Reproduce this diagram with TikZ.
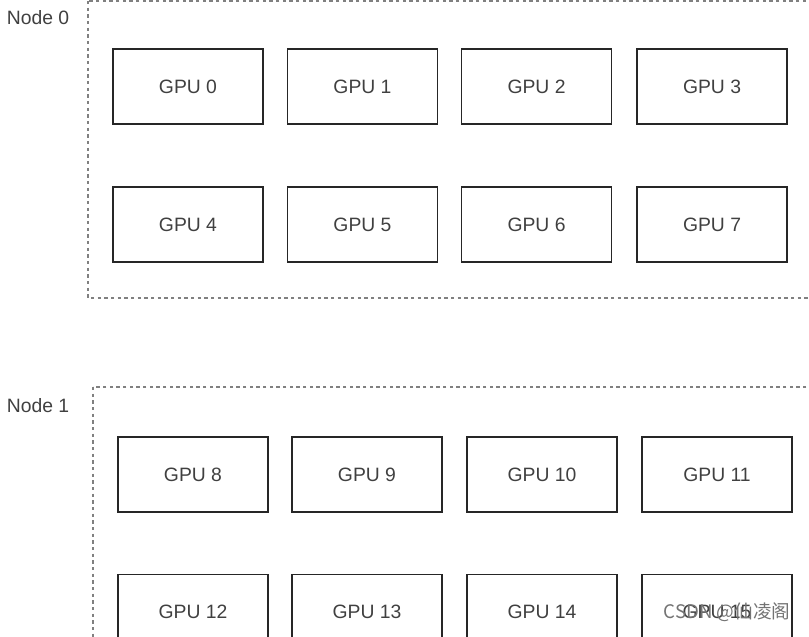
\documentclass[tikz,border=0pt]{standalone}
\usepackage{fontspec}
\setmainfont{Liberation Sans}
\newfontfamily\cjk{Noto Sans CJK SC}

\begin{document}
\begin{tikzpicture}[x=0.75pt,y=-0.75pt]

      \useasboundingbox (0,0) rectangle (809,636);
      \clip (0,0) rectangle (809,636);

      \tikzset{
        gpubox/.style={draw=black!85,line width=0.9pt,text=black!75,
          minimum width=112.5pt,minimum height=56.25pt,
          font=\fontsize{14.5}{17}\selectfont},
        hostbox/.style={draw=black!50,line width=0.8pt,dash pattern=on 2.6pt off 2.4pt},
        hostlabel/.style={text=black!75,font=\fontsize{14.5}{17}\selectfont}
      }

      % containers
      \draw[hostbox] (88,1) rectangle (830,298);
      \draw[hostbox] (93,387) rectangle (830,660);

      \node[hostlabel] (n0) at (38,18) {Node 0};
      \node[hostlabel] (n1) at (38,406) {Node 1};

      \begin{scope}[every node/.style={gpubox}]
        \node (0) at (188,86.5) {GPU 0};
        \node (1) at (362.5,86.5) {GPU 1};
        \node (2) at (536.5,86.5) {GPU 2};
        \node (3) at (712,86.5) {GPU 3};
        \node (4) at (188,224.5) {GPU 4};
        \node (5) at (362.5,224.5) {GPU 5};
        \node (6) at (536.5,224.5) {GPU 6};
        \node (7) at (712,224.5) {GPU 7};
        \node (8) at (193,474.5) {GPU 8};
        \node (9) at (367,474.5) {GPU 9};
        \node (10) at (542,474.5) {GPU 10};
        \node (11) at (717,474.5) {GPU 11};
        \node (12) at (193,612) {GPU 12};
        \node (13) at (367,612) {GPU 13};
        \node (14) at (542,612) {GPU 14};
        \node (15) at (717,612) {GPU 15};
      \end{scope}

      \node[text=black!55,font=\cjk\fontsize{14}{16}\selectfont] (wm) at (727,612) {CSDN @仙凌阁};

\end{tikzpicture}
\end{document}
